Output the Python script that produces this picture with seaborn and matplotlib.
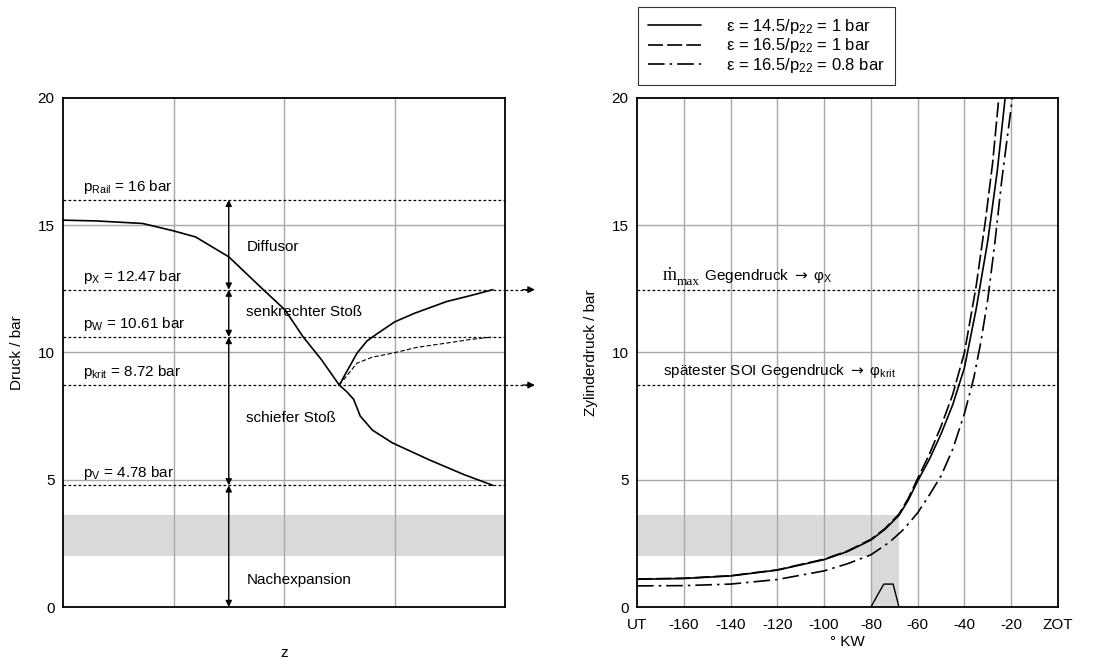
import numpy as np
import pandas as pd
import matplotlib
matplotlib.use('Agg')
import matplotlib.pyplot as plt
import seaborn as sns

# ---- left plot data (z axis, arbitrary units 0..4) ----
main_z = [0, 0.3, 0.72, 1.0, 1.2, 1.5, 1.8, 2.01, 2.17, 2.34, 2.5]
main_p = [15.2, 15.17, 15.07, 14.78, 14.54, 13.76, 12.52, 11.67, 10.63, 9.71, 8.72]

upper_z = [2.5, 2.66, 2.75, 2.85, 3.0, 3.18, 3.47, 3.7, 3.89]
upper_p = [8.72, 9.97, 10.45, 10.76, 11.2, 11.54, 12.0, 12.25, 12.47]

thin_z = [2.5, 2.66, 2.8, 2.98, 3.2, 3.47, 3.7, 3.89]
thin_p = [8.72, 9.58, 9.82, 9.97, 10.2, 10.37, 10.52, 10.61]

lower_z = [2.5, 2.57, 2.63, 2.69, 2.8, 2.98, 3.31, 3.63, 3.89]
lower_p = [8.72, 8.45, 8.16, 7.5, 6.95, 6.45, 5.79, 5.2, 4.78]

levels = [16, 12.47, 10.61, 8.72, 4.78]
level_labels = [r'p$_{\mathrm{Rail}}$ = 16 bar', r'p$_{\mathrm{X}}$ = 12.47 bar',
                r'p$_{\mathrm{W}}$ = 10.61 bar', r'p$_{\mathrm{krit}}$ = 8.72 bar',
                r'p$_{\mathrm{V}}$ = 4.78 bar']
regions = ['Diffusor', 'senkrechter Stoß', 'schiefer Stoß', 'Nachexpansion']
region_y = [14.15, 11.6, 7.43, 1.05]

# ---- right plot data (crank angle) ----
kw_ticks = list(range(-180, 1, 20))
kw_labels = ['UT', '-160', '-140', '-120', '-100', '-80', '-60', '-40', '-20', 'ZOT']

kw_a = [-180, -160, -140, -120, -100, -90, -80, -74, -68, -64, -60, -55, -50, -45, -40,
        -35, -30, -26, -22.6]
p_a = [1.09, 1.12, 1.22, 1.45, 1.86, 2.18, 2.63, 3.05, 3.6, 4.2, 4.95, 5.8, 6.8, 7.95, 9.4,
       11.7, 14.4, 17.1, 20.0]

kw_b = [-180, -160, -140, -120, -100, -90, -80, -74, -68, -64, -60, -55, -50, -45, -40,
        -35, -31, -28, -25.3]
p_b = [1.1, 1.13, 1.23, 1.46, 1.88, 2.2, 2.66, 3.08, 3.65, 4.27, 5.05, 6.0, 7.1, 8.35, 10.0,
       12.6, 15.2, 17.4, 20.0]

kw_c = [-180, -160, -140, -120, -100, -90, -80, -72, -66, -60, -55, -50, -45, -40, -36,
        -33, -30, -27, -24, -19.5]
p_c = [0.83, 0.84, 0.9, 1.08, 1.42, 1.7, 2.05, 2.55, 3.05, 3.7, 4.4, 5.15, 6.2, 7.6, 9.0,
       10.4, 12.1, 14.3, 16.8, 20.0]

series_labels = [r'ε = 14.5/p$_{22}$ = 1 bar', r'ε = 16.5/p$_{22}$ = 1 bar',
                 r'ε = 16.5/p$_{22}$ = 0.8 bar']

trap_kw = [-80, -74.5, -70.5, -68]
trap_p = [0, 0.9, 0.9, 0]

sns.set_style("white")
plt.rcParams['font.family'] = ['Liberation Sans', 'DejaVu Sans']
plt.rcParams['mathtext.fontset'] = 'custom'
plt.rcParams['mathtext.rm'] = 'Liberation Sans'
plt.rcParams['mathtext.it'] = 'Liberation Sans:italic'
plt.rcParams['mathtext.sf'] = 'Liberation Serif'
plt.rcParams['mathtext.bf'] = 'DejaVu Sans'
plt.rcParams['font.size'] = 11
for key in ['text.color', 'axes.labelcolor', 'xtick.color', 'ytick.color']:
    plt.rcParams[key] = 'black'

fig = plt.figure(figsize=(11.09, 6.59), dpi=100)
ax1 = fig.add_axes([0.0568, 0.0789, 0.3986, 0.7724])
ax2 = fig.add_axes([0.5744, 0.0789, 0.3796, 0.7724])

grid_c = '#a8a8a8'
dot = (0, (2.2, 1.8))
fs = 11

# ---------------- left ----------------
ax1.set_xlim(0, 4)
ax1.set_ylim(0, 20)
ax1.axhspan(2, 3.6, color='#d9d9d9', lw=0, zorder=0.5)
for g in [1, 2, 3]:
    ax1.axvline(g, color=grid_c, lw=1, zorder=0.8)
for g in [5, 10, 15]:
    ax1.axhline(g, color=grid_c, lw=1, zorder=0.8)

for lv, lab in zip(levels, level_labels):
    ax1.plot([0, 4], [lv, lv], color='black', lw=0.9, ls=dot, zorder=2)
    ax1.text(0.18, lv + 0.15, lab, ha='left', va='bottom', fontsize=fs)

for lv in [12.47, 8.72]:
    ax1.plot([4, 4.2], [lv, lv], color='black', lw=0.9, ls=dot, clip_on=False)
    ax1.annotate('', xy=(4.27, lv), xytext=(4.16, lv), annotation_clip=False,
                 arrowprops=dict(arrowstyle='-|>', color='black', lw=0.9,
                                 mutation_scale=10, shrinkA=0, shrinkB=0))

bounds = [16, 12.47, 10.61, 4.78, 0]
for top, bot in zip(bounds[:-1], bounds[1:]):
    ax1.annotate('', xy=(1.5, top), xytext=(1.5, bot), annotation_clip=False,
                 arrowprops=dict(arrowstyle='<|-|>', color='black', lw=1,
                                 mutation_scale=9, shrinkA=0, shrinkB=0))

for txt, ty in zip(regions, region_y):
    ax1.text(1.66, ty, txt, ha='left', va='center', fontsize=fs)

sns.lineplot(x=main_z, y=main_p, ax=ax1, color='black', lw=1.2, sort=False)
sns.lineplot(x=upper_z, y=upper_p, ax=ax1, color='black', lw=1.2, sort=False)
sns.lineplot(x=lower_z, y=lower_p, ax=ax1, color='black', lw=1.2, sort=False)
sns.lineplot(x=thin_z, y=thin_p, ax=ax1, color='black', lw=0.8, ls=(0, (4, 2)), sort=False)

ax1.set_xticks([])
ax1.set_yticks([0, 5, 10, 15, 20])
ax1.tick_params(axis='y', length=0, labelsize=fs, pad=6)
ax1.set_xlabel('z', fontsize=fs, labelpad=28)
ax1.set_ylabel('Druck / bar', fontsize=fs, labelpad=10)
for s in ax1.spines.values():
    s.set_linewidth(1.3)
    s.set_color('black')

# ---------------- right ----------------
ax2.set_xlim(-180, 0)
ax2.set_ylim(0, 20)
ax2.fill_between([-180, -68], 2, 3.6, color='#d9d9d9', lw=0, zorder=0.5)
ax2.fill_between([-80, -68], 0, 3.6, color='#d9d9d9', lw=0, zorder=0.5)
for g in kw_ticks[1:-1]:
    ax2.axvline(g, color=grid_c, lw=1, zorder=0.8)
for g in [5, 10, 15]:
    ax2.axhline(g, color=grid_c, lw=1, zorder=0.8)

ax2.plot([-180, 0], [12.47, 12.47], color='black', lw=0.9, ls=dot, zorder=2)
ax2.plot([-180, 0], [8.72, 8.72], color='black', lw=0.9, ls=dot, zorder=2)

# m-dot label in serif, rest appended after it
t_m = ax2.text(-169, 12.68, 'ṁ', family=['Liberation Serif', 'DejaVu Serif'],
               fontsize=13, ha='left', va='bottom')
fig.canvas.draw()
bb = t_m.get_window_extent().transformed(ax2.transData.inverted())
t_max = ax2.text(bb.x1, 12.52, 'max', family=['Liberation Serif', 'DejaVu Serif'],
                 fontsize=9.5, ha='left', va='bottom')
fig.canvas.draw()
bb = t_max.get_window_extent().transformed(ax2.transData.inverted())
ax2.text(bb.x1, 12.65, r' Gegendruck $\mathbf{\rightarrow}$ φ$_{\mathrm{X}}$',
         ha='left', va='bottom', fontsize=fs)
ax2.text(-169, 8.9, r'spätester SOI Gegendruck $\mathbf{\rightarrow}$ φ$_{\mathrm{krit}}$',
         ha='left', va='bottom', fontsize=fs)

ax2.plot(trap_kw, trap_p, color='black', lw=1)

sns.lineplot(x=kw_a, y=p_a, ax=ax2, color='black', lw=1.2, label=series_labels[0], sort=False)
sns.lineplot(x=kw_b, y=p_b, ax=ax2, color='black', lw=1.2, ls=(0, (9, 2.5)),
             label=series_labels[1], sort=False)
sns.lineplot(x=kw_c, y=p_c, ax=ax2, color='black', lw=1.2, ls=(0, (10, 3, 1.5, 3)),
             label=series_labels[2], sort=False)

ax2.set_xticks(kw_ticks)
ax2.set_xticklabels(kw_labels)
ax2.set_yticks([0, 5, 10, 15, 20])
ax2.tick_params(axis='both', length=0, labelsize=fs, pad=8)
ax2.tick_params(axis='y', pad=6)
ax2.set_xlabel('° KW', fontsize=fs, labelpad=2)
ax2.set_ylabel('Zylinderdruck / bar', fontsize=fs, labelpad=10)
for s in ax2.spines.values():
    s.set_linewidth(1.3)
    s.set_color('black')

ax2.legend(loc='upper left', bbox_to_anchor=(0.575, 0.99), bbox_transform=fig.transFigure,
           borderaxespad=0, frameon=True, fancybox=False, edgecolor='black',
           handlelength=3.2, handletextpad=1.5, labelspacing=0.05, fontsize=12,
           borderpad=0.6)
ax2.get_legend().get_frame().set_linewidth(0.8)

fig.savefig('out.png', dpi=100)
